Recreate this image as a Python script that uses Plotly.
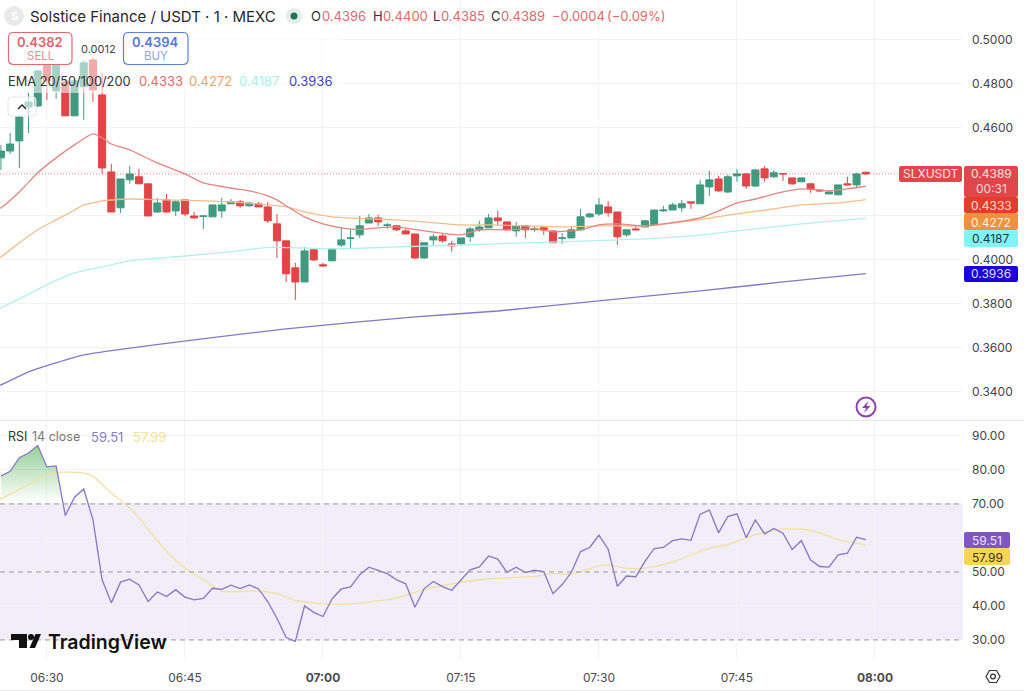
import pandas as pd
import plotly.graph_objects as go

# SLXUSDT 1-minute candles, 06:25 through 07:59
opens = [.4462,.4493,.4539,.4693,.4698,.4898,.4766,.4807,.4653,.4785,.4907,.4748,.4398,.4235,.4362,.4376,.4344,.4216,.4271,.4221,
         .4271,.4198,.4196,.4194,.4221,.4253,.4262,.4244,.4253,.4239,.4162,.4085,.3962,.3898,.4044,.3976,.3994,.4066,.4096,.4112,
         .4166,.4189,.4155,.4153,.4130,.4116,.4007,.4089,.4107,.4071,.4071,.4103,.4135,.4144,.4189,.4171,.4130,.4153,.4135,.4144,
         .4130,.4096,.4098,.4135,.4194,.4207,.4239,.4216,.4112,.4139,.4148,.4157,.4221,.4225,.4235,.4262,.4253,.4330,.4366,.4307,
         .4380,.4389,.4334,.4412,.4376,.4391,.4371,.4353,.4344,.4316,.4298,.4294,.4344,.4339,.4396]
highs = [.4521,.4575,.4652,.4757,.4862,.4921,.4907,.4825,.4825,.4907,.4916,.4848,.4435,.4366,.4425,.4412,.4344,.4280,.4298,.4271,
         .4271,.4216,.4198,.4248,.4280,.4275,.4271,.4262,.4262,.4262,.4207,.4085,.3985,.4057,.4044,.3985,.4048,.4148,.4139,.4198,
         .4207,.4203,.4166,.4157,.4139,.4116,.4076,.4116,.4121,.4085,.4098,.4148,.4176,.4207,.4221,.4171,.4171,.4153,.4153,.4144,
         .4130,.4121,.4153,.4230,.4212,.4280,.4266,.4216,.4135,.4153,.4176,.4225,.4244,.4257,.4271,.4262,.4362,.4403,.4380,.4385,
         .4412,.4394,.4412,.4425,.4407,.4391,.4371,.4371,.4348,.4316,.4312,.4339,.4376,.4394,.4400]
lows = [.4407,.4480,.4416,.4575,.4693,.4725,.4730,.4653,.4653,.4635,.4716,.4389,.4216,.4212,.4344,.4344,.4198,.4212,.4212,.4198,
        .4198,.4185,.4139,.4194,.4189,.4253,.4235,.4239,.4239,.4166,.4007,.3898,.3816,.3898,.3994,.3966,.3994,.4057,.4048,.4098,
        .4166,.4153,.4139,.4130,.4116,.4003,.4003,.4066,.4076,.4035,.4062,.4080,.4126,.4144,.4153,.4135,.4103,.4098,.4126,.4112,
        .4076,.4071,.4098,.4130,.4189,.4198,.4194,.4066,.4103,.4135,.4148,.4157,.4216,.4225,.4216,.4230,.4253,.4289,.4307,.4303,
        .4353,.4321,.4330,.4353,.4371,.4357,.4339,.4353,.4303,.4307,.4298,.4294,.4339,.4325,.4385]
closes = [.4493,.4525,.4648,.4716,.4857,.4812,.4885,.4653,.4812,.4894,.4771,.4416,.4216,.4366,.4389,.4344,.4198,.4257,.4216,.4262,
          .4207,.4189,.4198,.4248,.4248,.4262,.4244,.4257,.4239,.4176,.4085,.3935,.3898,.4039,.3998,.3971,.4048,.4089,.4098,.4153,
          .4189,.4171,.4157,.4135,.4116,.4007,.4076,.4103,.4085,.4062,.4098,.4139,.4148,.4189,.4176,.4135,.4153,.4135,.4139,.4135,
          .4076,.4098,.4135,.4194,.4207,.4248,.4212,.4103,.4135,.4135,.4176,.4225,.4225,.4248,.4253,.4257,.4339,.4362,.4312,.4376,
          .4389,.4334,.4407,.4371,.4394,.4389,.4344,.4371,.4321,.4312,.4307,.4339,.4339,.4389,.4389]

# Moving averages: minutes after 06:30, then value
ema20_min = [-6,-5,-3,-1,1,3,5,6,7,9,12,15,17,20,22,24,25,26,28,30,32,34,36,38,41,45,47,50,53,55,58,60,62,65,67,71,73,75,77,80,82,85,87,89]
ema20 = [.4216,.4235,.4307,.4394,.4462,.4521,.4571,.4553,.4525,.4498,.4439,.4389,.4348,.4325,.4312,.4289,.4271,.4244,.4194,.4162,.4144,.4137,.4144,.4148,.4130,.4112,.4135,.4135,.4139,.4126,.4135,.4157,.4162,.4153,.4162,.4189,.4221,.4257,.4275,.4307,.4321,.4312,.4321,.4333]
ema50_min = [-6,-5,-3,-1,1,3,4,5,6,9,13,20,26,28,31,35,38,41,45,48,52,56,60,65,70,75,79,82,86,89]
ema50 = [.3989,.4012,.4076,.4135,.4180,.4225,.4248,.4257,.4266,.4275,.4271,.4262,.4239,.4216,.4194,.4185,.4180,.4171,.4157,.4157,.4153,.4148,.4153,.4153,.4176,.4207,.4230,.4248,.4257,.4272]
ema100_min = [-6,-5,-3,0,3,6,9,15,20,24,29,31,38,45,52,59,65,70,75,82,89]
ema100 = [.3766,.3780,.3821,.3885,.3939,.3966,.3994,.4016,.4035,.4055,.4051,.4048,.4057,.4066,.4076,.4085,.4094,.4107,.4130,.4162,.4187]
ema200_min = [-6,-5,-2,1,4,8,16,26,40,49,60,71,80,89]
ema200 = [.3417,.3430,.3489,.3530,.3566,.3592,.3635,.3685,.3739,.3766,.3812,.3857,.3898,.3936]

# RSI(14) per minute, 06:25 through 07:59, and its smoothing line
rsi = [78.2,79.6,83.6,85.0,87.2,80.9,81.2,66.6,72.0,74.4,65.4,47.7,40.9,47.0,47.9,46.2,41.3,44.1,42.8,44.8,
       42.6,41.8,42.2,45.2,44.9,46.1,45.1,46.2,45.0,41.3,36.4,30.7,29.6,40.0,38.1,36.9,42.1,45.0,45.6,49.2,
       51.4,50.4,49.5,47.7,46.5,39.6,45.1,47.2,45.7,44.6,47.5,50.6,51.5,54.7,53.8,49.9,51.4,49.8,50.5,50.1,
       43.6,46.3,49.9,56.0,57.2,60.8,56.7,45.8,48.8,48.6,53.1,56.9,57.2,59.2,59.7,59.3,67.0,68.2,61.5,66.3,
       67.1,60.1,65.3,61.2,62.8,61.4,56.6,59.2,53.5,51.6,51.4,55.0,55.5,60.2,59.51]
rsi_ma_min = [-6,-3,-1,1,4,5,7,8.5,10,13,15,17,19,23,25,27,30,32,34,38,41,45,48,53,55,57,60,61,63,65,67,69,72,74,77,79.6,82,84,86,89]
rsi_ma = [70.2,74.2,77.4,79.3,79.1,78.2,73.2,70.0,65.9,56.0,51.1,47.7,44.3,44.4,43.6,41.6,40.6,40.5,40.8,42.3,44.8,46.9,48.0,48.7,49.5,49.4,51.8,52.1,51.1,51.1,52.2,53.9,57.0,58.0,61.0,62.6,62.6,61.5,59.5,57.99]

time_ticks = ["06:30", "06:45", "07:00", "07:15", "07:30", "07:45", "08:00"]
time_labels = ["06:30", "06:45", "<b>07:00</b>", "07:15", "07:30", "07:45", "<b>08:00</b>"]
price_ticks = [.34, .36, .38, .40, .42, .44, .46, .48, .50]
price_labels = ["0.3400", "0.3600", "0.3800", "0.4000", "", "", "0.4600", "0.4800", "0.5000"]
rsi_ticks = [30, 40, 50, 60, 70, 80, 90]
rsi_labels = ["30.00", "40.00", "50.00", "", "70.00", "80.00", "90.00"]

W, H = 1024, 691
DAY = "2025-01-01 "
T0 = pd.Timestamp(DAY + "06:30")
FONT = "Inter, sans-serif"
UP, DOWN = "#3f9a80", "#e04548"


def at(minutes):
    return [T0 + pd.Timedelta(minutes=float(m)) for m in minutes]


def px(x):
    return x / W


def py(y):
    return 1 - y / H


candle_time = pd.date_range(DAY + "06:25", periods=len(opens), freq="min")

fig = go.Figure()
fig.add_trace(go.Candlestick(
    x=candle_time, open=opens, high=highs, low=lows, close=closes,
    increasing=dict(line=dict(color=UP, width=1), fillcolor=UP),
    decreasing=dict(line=dict(color=DOWN, width=1), fillcolor=DOWN),
    xaxis="x", yaxis="y", showlegend=False, hoverinfo="skip"))

for mins, vals, col in [(ema200_min, ema200, "#8378c8"), (ema100_min, ema100, "#b0f0f1"),
                        (ema50_min, ema50, "#f2bd8a"), (ema20_min, ema20, "#e2857f")]:
    fig.add_trace(go.Scatter(x=at(mins), y=vals, mode="lines", xaxis="x", yaxis="y",
                             line=dict(color=col, width=1.3, shape="spline", smoothing=0.6),
                             showlegend=False, hoverinfo="skip"))

# Overbought shading: RSI clipped at 70, with the crossings added as vertices
rsi_min = list(range(-5, 90))
over_x, over_y = [], []
for i, (m, v) in enumerate(zip(rsi_min, rsi)):
    if i and (rsi[i - 1] - 70) * (v - 70) < 0:
        over_x.append(m - 1 + (70 - rsi[i - 1]) / (v - rsi[i - 1]))
        over_y.append(70)
    over_x.append(m)
    over_y.append(max(v, 70))
fig.add_trace(go.Scatter(x=at(over_x), y=[70] * len(over_x), mode="lines", line=dict(width=0),
                         xaxis="x2", yaxis="y2", showlegend=False, hoverinfo="skip"))
fig.add_trace(go.Scatter(x=at(over_x), y=over_y, mode="lines", line=dict(width=0), fill="tonexty",
                         fillgradient=dict(type="vertical", start=70, stop=87.2,
                                           colorscale=[[0, "rgba(76,175,80,0)"], [1, "rgba(76,175,80,0.6)"]]),
                         xaxis="x2", yaxis="y2", showlegend=False, hoverinfo="skip"))

fig.add_trace(go.Scatter(x=at(rsi_ma_min), y=rsi_ma, mode="lines", xaxis="x2", yaxis="y2",
                         line=dict(color="#f5e09a", width=1.3, shape="spline", smoothing=0.5),
                         showlegend=False, hoverinfo="skip"))
fig.add_trace(go.Scatter(x=at(rsi_min), y=rsi, mode="lines", xaxis="x2", yaxis="y2",
                         line=dict(color="#8577c4", width=1.3), showlegend=False, hoverinfo="skip"))


def rbox(x0, y0, x1, y1, r):
    """Rounded rectangle path given in page pixels."""
    X, Y = px, py
    return (f"M{X(x0 + r)},{Y(y0)} L{X(x1 - r)},{Y(y0)} Q{X(x1)},{Y(y0)} {X(x1)},{Y(y0 + r)} "
            f"L{X(x1)},{Y(y1 - r)} Q{X(x1)},{Y(y1)} {X(x1 - r)},{Y(y1)} L{X(x0 + r)},{Y(y1)} "
            f"Q{X(x0)},{Y(y1)} {X(x0)},{Y(y1 - r)} L{X(x0)},{Y(y0 + r)} Q{X(x0)},{Y(y0)} {X(x0 + r)},{Y(y0)} Z")


def poly(points, fill):
    path = "M" + " L".join(f"{px(a)},{py(b)}" for a, b in points) + " Z"
    return dict(type="path", xref="paper", yref="paper", path=path, fillcolor=fill, line=dict(width=0))


def disc(cx, cy, r, fill, line_color=None, line_width=0):
    return dict(type="circle", xref="paper", yref="paper", x0=px(cx - r), x1=px(cx + r), y0=py(cy + r), y1=py(cy - r),
                fillcolor=fill, line=dict(color=line_color, width=line_width))


def box(x0, y0, x1, y1, r, fill, line_color=None, line_width=0):
    return dict(type="path", xref="paper", yref="paper", path=rbox(x0, y0, x1, y1, r), fillcolor=fill,
                line=dict(color=line_color, width=line_width))


RIGHT = 963 / W
shapes = []
# RSI band and its dashed levels
shapes.append(dict(type="rect", xref="paper", yref="y2", x0=0, x1=RIGHT, y0=30, y1=70,
                   fillcolor="#f1edf9", line=dict(width=0), layer="below"))
for lvl in (30, 50, 70):
    shapes.append(dict(type="line", xref="paper", yref="y2", x0=0, x1=RIGHT, y0=lvl, y1=lvl,
                       line=dict(color="#98989e", width=1, dash="5px,4px")))
# Last price
shapes.append(dict(type="line", xref="paper", yref="y", x0=0, x1=RIGHT, y0=closes[-1], y1=closes[-1],
                   opacity=0.75, line=dict(color="#e0474c", width=1, dash="1px,2px")))
# Pane separators
for y in (420.5, 690.5):
    shapes.append(dict(type="line", xref="paper", yref="paper", x0=0, x1=1, y0=py(y), y1=py(y),
                       line=dict(color="#e6e6ea", width=1)))
# Legend backdrop and collapse button
shapes.append(dict(type="rect", xref="paper", yref="paper", x0=0, x1=px(340), y0=py(93), y1=1,
                   fillcolor="rgba(255,255,255,0.55)", line=dict(width=0)))
shapes.append(box(8, 97, 36, 116, 3, "rgba(255,255,255,0.6)", "#e6e6e6", 1))
shapes.append(box(8.5, 32.5, 72, 64.5, 5, "#ffffff", "#df6d70", 1.2))
shapes.append(box(123.5, 32.5, 188, 64.5, 5, "#ffffff", "#5d80d8", 1.2))
# Header icons
shapes.append(disc(14, 16, 10, "#e9e9ea"))
shapes.append(disc(294, 16, 8, "#e2efe9"))
shapes.append(disc(294, 16, 3.5, "#22735a"))
# Price scale badges
shapes.append(box(899, 166, 962, 182, 2, "#e0474c"))
shapes.append(box(964, 166, 1018, 197, 2, "#e0474c"))
shapes.append(box(964, 197, 1018, 213, 2, "#e63c2b"))
shapes.append(box(964, 213, 1018, 230, 2, "#f0913f"))
shapes.append(box(964, 230, 1018, 247, 2, "#7ff5f8"))
shapes.append(box(964, 266, 1018, 282, 2, "#1a00dc"))
shapes.append(box(964, 532, 1010, 548, 2, "#7e57c2"))
shapes.append(box(964, 548, 1010, 565, 2, "#f5d751"))
# Brand mark
shapes.append(poly([(11, 634), (27, 634), (27, 648), (19, 648), (19, 640), (11, 640)], "#111111"))
shapes.append(disc(31, 637, 3, "#111111"))
shapes.append(poly([(41, 634), (35.5, 634), (29.5, 648), (35, 648)], "#111111"))
# Lightning badge
shapes.append(disc(866, 407, 9.5, "#ffffff", "#8e44ad", 2))
shapes.append(poly([(868.5, 401), (862, 408), (866, 408), (864, 413), (870.5, 406), (866.5, 406)], "#8e44ad"))
# Settings hexagon
hexagon = [(986, 676.5), (989.5, 670.5), (996.5, 670.5), (1000, 676.5), (996.5, 682.5), (989.5, 682.5)]
shapes.append(dict(type="path", xref="paper", yref="paper",
                   path="M" + " L".join(f"{px(a)},{py(b)}" for a, b in hexagon) + " Z",
                   fillcolor="rgba(0,0,0,0)", line=dict(color="#333333", width=1.2)))
shapes.append(disc(993, 676.5, 2.4, "rgba(0,0,0,0)", "#333333", 1.2))
# Collapse chevron
shapes.append(dict(type="path", xref="paper", yref="paper",
                   path=f"M{px(18)},{py(109)} L{px(22)},{py(105)} L{px(26)},{py(109)}",
                   fillcolor="rgba(0,0,0,0)", line=dict(color="#222222", width=1.4)))

annotations = []


def label(x, y, text, color="#333333", size=12, anchor="left", weight=None):
    annotations.append(dict(xref="paper", yref="paper", x=px(x), y=py(y), text=text, showarrow=False,
                            xanchor=anchor, yanchor="middle", borderpad=0, borderwidth=0,
                            font=dict(family=FONT, size=size, color=color, weight=weight)))


RED_TXT = "#dd6a6c"
label(14, 16, "S", "#ffffff", 11, "center", 700)
label(30, 16, "Solstice Finance / USDT · 1 · MEXC", "#26262b", 15)
for x, t, c in [(311, "O", "#333"), (322, "0.4396", RED_TXT), (373, "H", "#333"), (383, "0.4400", RED_TXT),
                (433, "L", "#333"), (441, "0.4385", RED_TXT), (491, "C", "#333"), (501, "0.4389", RED_TXT),
                (552, "−0.0004", RED_TXT), (607, "(−0.09%)", RED_TXT)]:
    label(x, 16, t, c, 13)
label(40, 42, "0.4382", "#dc6568", 13, "center", 600)
label(40, 56, "SELL", "#e68e90", 11.5, "center")
label(155.5, 42, "0.4394", "#5478d6", 13, "center", 600)
label(155.5, 56, "BUY", "#8da6e2", 11.5, "center")
label(98, 48.5, "0.0012", "#444444", 11, "center")
label(8, 81, "EMA 20/50/100/200", "#333333", 12.8)
for x, t, c in [(139, "0.4333", "#dc6f68"), (189, "0.4272", "#eba468"), (239, "0.4187", "#a8eef2"), (289, "0.3936", "#3f3fc4")]:
    label(x, 81, t, c, 13)
label(8, 437, "RSI", "#333333", 12.5)
label(32, 437, "14 close", "#777777", 12.5)
label(91, 437, "59.51", "#8a7cc6", 13)
label(133, 437, "57.99", "#f4e294", 13)
label(48, 642, "TradingView", "#111111", 19.5, "left", 600)

label(931, 174, "SLXUSDT", "#fbe3e3", 12, "center")
label(991, 174, "0.4389", "#fbe3e3", 12, "center")
label(991, 188, "00:31", "#f9d5d5", 12, "center")
label(991, 205, "0.4333", "#fbdcd6", 12, "center")
label(991, 222, "0.4272", "#fdeedd", 12, "center")
label(991, 239, "0.4187", "#20343a", 12, "center")
label(991, 274, "0.3936", "#dfe0ff", 12, "center")
label(987, 540, "59.51", "#ede6fa", 12, "center")
label(987, 557, "57.99", "#3a3320", 12, "center")

GRID = "#f3f3f6"
common_y = dict(side="right", showline=False, zeroline=False, gridcolor=GRID, gridwidth=1, ticks="",
                ticklabelstandoff=8, tickfont=dict(family=FONT, size=12, color="#444444"))
common_x = dict(range=[T0 - pd.Timedelta(seconds=306), T0 + pd.Timedelta(seconds=5974)],
                domain=[0, RIGHT], type="date", tickmode="array",
                tickvals=[pd.Timestamp(DAY + t) for t in time_ticks],
                showline=False, zeroline=False, gridcolor=GRID, gridwidth=1, ticks="")

fig.update_layout(
    width=W, height=H, autosize=False, margin=dict(l=0, r=0, t=0, b=0),
    paper_bgcolor="#ffffff", plot_bgcolor="#ffffff", showlegend=False, hovermode=False,
    boxgap=0.15, boxgroupgap=0.1,
    font=dict(family=FONT),
    xaxis=dict(anchor="y", showticklabels=False, rangeslider=dict(visible=False), **common_x),
    xaxis2=dict(anchor="y2", matches="x", ticktext=time_labels, ticklabelstandoff=9,
                tickfont=dict(family=FONT, size=12, color="#4a4a50"), **common_x),
    yaxis=dict(anchor="x", domain=[py(420), 1], range=[.32705, .51795], tickmode="array",
               tickvals=price_ticks, ticktext=price_labels, **common_y),
    yaxis2=dict(anchor="x2", domain=[py(660), py(421)], range=[24.1, 94.4], tickmode="array",
                tickvals=rsi_ticks, ticktext=rsi_labels, **common_y),
    shapes=shapes, annotations=annotations)

fig.write_html("out.html", config=dict(displayModeBar=False))
